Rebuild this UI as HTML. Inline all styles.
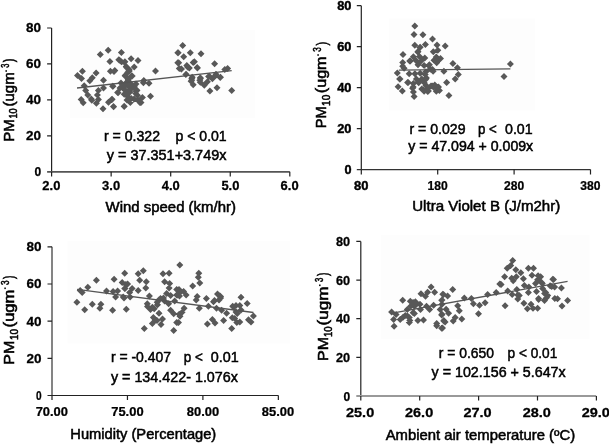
<!DOCTYPE html>
<html><head><meta charset="utf-8"><style>html,body{margin:0;padding:0;background:#fff;}svg{display:block;will-change:transform;}</style></head>
<body><svg width="609" height="444" viewBox="0 0 609 444">
<rect width="609" height="444" fill="#fff"/>
<rect x="70" y="30" width="184.7" height="88" fill="#fdfdfd"/><rect x="389" y="18.5" width="145.8" height="92" fill="#fdfdfd"/><rect x="67.6" y="240.8" width="222.2" height="102.7" fill="#fdfdfd"/><rect x="380.8" y="234.9" width="208.8" height="104.1" fill="#fdfdfd"/><g fill="none"><path d="M51.6 28V171.8" stroke="#222" stroke-width="1.2"/><path d="M47.1 171.8H289.8" stroke="#555" stroke-width="1.8"/><path d="M47.1 28.0H51.6M47.1 63.95H51.6M47.1 99.9H51.6M47.1 135.85000000000002H51.6M51.6 171.8v4.8M111.15 171.8v4.8M170.7 171.8v4.8M230.24999999999997 171.8v4.8M289.8 171.8v4.8" stroke="#222" stroke-width="1.2"/></g><g fill="none"><path d="M361.3 5.7V169.6" stroke="#222" stroke-width="1.2"/><path d="M356.8 169.6H590.5" stroke="#333" stroke-width="1.4"/><path d="M356.8 5.7H361.3M356.8 46.650000000000006H361.3M356.8 87.60000000000001H361.3M356.8 128.55H361.3M361.3 169.6v4.9M437.70000000000005 169.6v4.9M514.1 169.6v4.9M590.5 169.6v4.9" stroke="#222" stroke-width="1.2"/></g><g fill="none"><path d="M52.0 246.8V395.5" stroke="#777" stroke-width="1.8"/><path d="M47.5 395.5H278.4" stroke="#222" stroke-width="1.2"/><path d="M47.5 246.8H52.0M47.5 283.98H52.0M47.5 321.16H52.0M47.5 358.34000000000003H52.0M52.0 395.5v4.4M127.45 395.5v4.4M202.9 395.5v4.4M278.35 395.5v4.4" stroke="#222" stroke-width="1.2"/></g><g fill="none"><path d="M360.8 241.4V396.0" stroke="#222" stroke-width="1.2"/><path d="M356.3 396.0H596.2" stroke="#999" stroke-width="2.0"/><path d="M356.3 241.4H360.8M356.3 280.05H360.8M356.3 318.7H360.8M356.3 357.35H360.8M360.8 396.0v4.6M419.7 396.0v4.6M478.6 396.0v4.6M537.5 396.0v4.6M596.4 396.0v4.6" stroke="#222" stroke-width="1.2"/></g><path d="M100.3 51.1l3.5 3.5l-3.5 3.5l-3.5 -3.5zM108.2 46.8l3.5 3.5l-3.5 3.5l-3.5 -3.5zM121.4 49.1l3.5 3.5l-3.5 3.5l-3.5 -3.5zM109.9 58.0l3.5 3.5l-3.5 3.5l-3.5 -3.5zM119.6 56.7l3.5 3.5l-3.5 3.5l-3.5 -3.5zM124.5 58.7l3.5 3.5l-3.5 3.5l-3.5 -3.5zM110.4 67.8l3.5 3.5l-3.5 3.5l-3.5 -3.5zM114.8 67.0l3.5 3.5l-3.5 3.5l-3.5 -3.5zM96.1 69.5l3.5 3.5l-3.5 3.5l-3.5 -3.5zM82.4 67.8l3.5 3.5l-3.5 3.5l-3.5 -3.5zM77.5 72.1l3.5 3.5l-3.5 3.5l-3.5 -3.5zM81.5 75.1l3.5 3.5l-3.5 3.5l-3.5 -3.5zM92.3 74.2l3.5 3.5l-3.5 3.5l-3.5 -3.5zM89.8 77.3l3.5 3.5l-3.5 3.5l-3.5 -3.5zM103.5 76.8l3.5 3.5l-3.5 3.5l-3.5 -3.5zM84.2 82.3l3.5 3.5l-3.5 3.5l-3.5 -3.5zM85.7 86.9l3.5 3.5l-3.5 3.5l-3.5 -3.5zM87.8 91.5l3.5 3.5l-3.5 3.5l-3.5 -3.5zM91.3 95.5l3.5 3.5l-3.5 3.5l-3.5 -3.5zM81.2 96.0l3.5 3.5l-3.5 3.5l-3.5 -3.5zM98.4 86.9l3.5 3.5l-3.5 3.5l-3.5 -3.5zM103.5 84.4l3.5 3.5l-3.5 3.5l-3.5 -3.5zM97.4 91.5l3.5 3.5l-3.5 3.5l-3.5 -3.5zM98.4 96.0l3.5 3.5l-3.5 3.5l-3.5 -3.5zM112.6 82.8l3.5 3.5l-3.5 3.5l-3.5 -3.5zM117.6 88.9l3.5 3.5l-3.5 3.5l-3.5 -3.5zM111.6 96.0l3.5 3.5l-3.5 3.5l-3.5 -3.5zM83.2 99.2l3.5 3.5l-3.5 3.5l-3.5 -3.5zM91.8 96.7l3.5 3.5l-3.5 3.5l-3.5 -3.5zM96.4 99.7l3.5 3.5l-3.5 3.5l-3.5 -3.5zM103.0 105.3l3.5 3.5l-3.5 3.5l-3.5 -3.5zM108.5 98.7l3.5 3.5l-3.5 3.5l-3.5 -3.5zM112.1 95.7l3.5 3.5l-3.5 3.5l-3.5 -3.5zM113.6 103.3l3.5 3.5l-3.5 3.5l-3.5 -3.5zM124.2 102.8l3.5 3.5l-3.5 3.5l-3.5 -3.5zM122.7 84.5l3.5 3.5l-3.5 3.5l-3.5 -3.5zM131.1 55.3l3.5 3.5l-3.5 3.5l-3.5 -3.5zM138.0 57.0l3.5 3.5l-3.5 3.5l-3.5 -3.5zM126.6 63.9l3.5 3.5l-3.5 3.5l-3.5 -3.5zM134.2 63.4l3.5 3.5l-3.5 3.5l-3.5 -3.5zM129.1 65.9l3.5 3.5l-3.5 3.5l-3.5 -3.5zM125.1 72.0l3.5 3.5l-3.5 3.5l-3.5 -3.5zM132.2 72.5l3.5 3.5l-3.5 3.5l-3.5 -3.5zM128.1 75.0l3.5 3.5l-3.5 3.5l-3.5 -3.5zM155.5 67.5l3.5 3.5l-3.5 3.5l-3.5 -3.5zM177.8 49.2l3.5 3.5l-3.5 3.5l-3.5 -3.5zM177.8 59.3l3.5 3.5l-3.5 3.5l-3.5 -3.5zM179.3 64.9l3.5 3.5l-3.5 3.5l-3.5 -3.5zM143.8 77.1l3.5 3.5l-3.5 3.5l-3.5 -3.5zM129.3 67.5l3.5 3.5l-3.5 3.5l-3.5 -3.5zM125.2 72.6l3.5 3.5l-3.5 3.5l-3.5 -3.5zM131.8 72.6l3.5 3.5l-3.5 3.5l-3.5 -3.5zM128.2 76.6l3.5 3.5l-3.5 3.5l-3.5 -3.5zM123.2 81.7l3.5 3.5l-3.5 3.5l-3.5 -3.5zM128.7 81.7l3.5 3.5l-3.5 3.5l-3.5 -3.5zM134.3 82.7l3.5 3.5l-3.5 3.5l-3.5 -3.5zM130.3 86.3l3.5 3.5l-3.5 3.5l-3.5 -3.5zM136.3 87.8l3.5 3.5l-3.5 3.5l-3.5 -3.5zM126.2 90.8l3.5 3.5l-3.5 3.5l-3.5 -3.5zM131.3 94.9l3.5 3.5l-3.5 3.5l-3.5 -3.5zM130.3 98.9l3.5 3.5l-3.5 3.5l-3.5 -3.5zM137.4 91.8l3.5 3.5l-3.5 3.5l-3.5 -3.5zM142.4 93.9l3.5 3.5l-3.5 3.5l-3.5 -3.5zM139.9 98.9l3.5 3.5l-3.5 3.5l-3.5 -3.5zM118.1 89.3l3.5 3.5l-3.5 3.5l-3.5 -3.5zM113.0 82.7l3.5 3.5l-3.5 3.5l-3.5 -3.5zM112.0 95.9l3.5 3.5l-3.5 3.5l-3.5 -3.5zM113.5 103.0l3.5 3.5l-3.5 3.5l-3.5 -3.5zM124.2 103.0l3.5 3.5l-3.5 3.5l-3.5 -3.5zM143.4 79.2l3.5 3.5l-3.5 3.5l-3.5 -3.5zM149.0 79.7l3.5 3.5l-3.5 3.5l-3.5 -3.5zM150.5 92.8l3.5 3.5l-3.5 3.5l-3.5 -3.5zM114.0 68.0l3.5 3.5l-3.5 3.5l-3.5 -3.5zM141.0 99.0l3.5 3.5l-3.5 3.5l-3.5 -3.5zM182.7 42.1l3.5 3.5l-3.5 3.5l-3.5 -3.5zM178.2 49.2l3.5 3.5l-3.5 3.5l-3.5 -3.5zM190.3 49.2l3.5 3.5l-3.5 3.5l-3.5 -3.5zM201.0 50.2l3.5 3.5l-3.5 3.5l-3.5 -3.5zM183.7 53.2l3.5 3.5l-3.5 3.5l-3.5 -3.5zM178.7 59.3l3.5 3.5l-3.5 3.5l-3.5 -3.5zM186.8 61.9l3.5 3.5l-3.5 3.5l-3.5 -3.5zM189.3 64.4l3.5 3.5l-3.5 3.5l-3.5 -3.5zM194.4 58.3l3.5 3.5l-3.5 3.5l-3.5 -3.5zM197.4 64.4l3.5 3.5l-3.5 3.5l-3.5 -3.5zM181.2 65.4l3.5 3.5l-3.5 3.5l-3.5 -3.5zM214.6 60.3l3.5 3.5l-3.5 3.5l-3.5 -3.5zM185.8 71.0l3.5 3.5l-3.5 3.5l-3.5 -3.5zM191.8 75.0l3.5 3.5l-3.5 3.5l-3.5 -3.5zM200.5 75.0l3.5 3.5l-3.5 3.5l-3.5 -3.5zM208.6 73.0l3.5 3.5l-3.5 3.5l-3.5 -3.5zM215.7 72.0l3.5 3.5l-3.5 3.5l-3.5 -3.5zM220.2 74.0l3.5 3.5l-3.5 3.5l-3.5 -3.5zM224.8 65.9l3.5 3.5l-3.5 3.5l-3.5 -3.5zM227.6 65.1l3.5 3.5l-3.5 3.5l-3.5 -3.5zM186.1 70.7l3.5 3.5l-3.5 3.5l-3.5 -3.5zM192.2 73.7l3.5 3.5l-3.5 3.5l-3.5 -3.5zM191.1 77.8l3.5 3.5l-3.5 3.5l-3.5 -3.5zM193.2 81.3l3.5 3.5l-3.5 3.5l-3.5 -3.5zM200.3 74.2l3.5 3.5l-3.5 3.5l-3.5 -3.5zM200.3 78.8l3.5 3.5l-3.5 3.5l-3.5 -3.5zM204.3 81.8l3.5 3.5l-3.5 3.5l-3.5 -3.5zM207.4 78.3l3.5 3.5l-3.5 3.5l-3.5 -3.5zM209.4 72.7l3.5 3.5l-3.5 3.5l-3.5 -3.5zM212.4 75.2l3.5 3.5l-3.5 3.5l-3.5 -3.5zM216.0 70.7l3.5 3.5l-3.5 3.5l-3.5 -3.5zM220.5 73.7l3.5 3.5l-3.5 3.5l-3.5 -3.5zM217.0 84.3l3.5 3.5l-3.5 3.5l-3.5 -3.5zM209.9 87.4l3.5 3.5l-3.5 3.5l-3.5 -3.5zM231.7 86.9l3.5 3.5l-3.5 3.5l-3.5 -3.5zM197.2 64.1l3.5 3.5l-3.5 3.5l-3.5 -3.5zM187.6 63.6l3.5 3.5l-3.5 3.5l-3.5 -3.5zM181.5 65.6l3.5 3.5l-3.5 3.5l-3.5 -3.5zM193.2 59.0l3.5 3.5l-3.5 3.5l-3.5 -3.5zM191.7 76.7l3.5 3.5l-3.5 3.5l-3.5 -3.5zM199.8 76.7l3.5 3.5l-3.5 3.5l-3.5 -3.5zM126.2 63.0l3.5 3.5l-3.5 3.5l-3.5 -3.5zM127.6 69.1l3.5 3.5l-3.5 3.5l-3.5 -3.5zM128.9 66.4l3.5 3.5l-3.5 3.5l-3.5 -3.5zM121.5 58.3l3.5 3.5l-3.5 3.5l-3.5 -3.5zM124.9 58.3l3.5 3.5l-3.5 3.5l-3.5 -3.5zM131.6 72.4l3.5 3.5l-3.5 3.5l-3.5 -3.5zM135.7 90.0l3.5 3.5l-3.5 3.5l-3.5 -3.5zM128.2 93.4l3.5 3.5l-3.5 3.5l-3.5 -3.5zM124.2 90.7l3.5 3.5l-3.5 3.5l-3.5 -3.5zM133.6 84.0l3.5 3.5l-3.5 3.5l-3.5 -3.5zM137.0 86.7l3.5 3.5l-3.5 3.5l-3.5 -3.5zM128.2 82.6l3.5 3.5l-3.5 3.5l-3.5 -3.5zM123.5 83.3l3.5 3.5l-3.5 3.5l-3.5 -3.5zM118.8 56.2l3.5 3.5l-3.5 3.5l-3.5 -3.5zM121.0 79.5l3.5 3.5l-3.5 3.5l-3.5 -3.5zM126.0 79.5l3.5 3.5l-3.5 3.5l-3.5 -3.5zM131.0 80.5l3.5 3.5l-3.5 3.5l-3.5 -3.5zM136.0 80.5l3.5 3.5l-3.5 3.5l-3.5 -3.5zM120.0 84.5l3.5 3.5l-3.5 3.5l-3.5 -3.5zM125.0 86.5l3.5 3.5l-3.5 3.5l-3.5 -3.5zM130.0 88.5l3.5 3.5l-3.5 3.5l-3.5 -3.5zM127.0 96.5l3.5 3.5l-3.5 3.5l-3.5 -3.5zM134.0 95.5l3.5 3.5l-3.5 3.5l-3.5 -3.5zM138.0 96.5l3.5 3.5l-3.5 3.5l-3.5 -3.5z" fill="#585858"/><path d="M414.8 22.4l3.5 3.5l-3.5 3.5l-3.5 -3.5zM414.0 31.0l3.5 3.5l-3.5 3.5l-3.5 -3.5zM422.9 31.3l3.5 3.5l-3.5 3.5l-3.5 -3.5zM432.5 35.6l3.5 3.5l-3.5 3.5l-3.5 -3.5zM414.8 41.7l3.5 3.5l-3.5 3.5l-3.5 -3.5zM425.4 40.9l3.5 3.5l-3.5 3.5l-3.5 -3.5zM437.0 41.4l3.5 3.5l-3.5 3.5l-3.5 -3.5zM445.2 42.4l3.5 3.5l-3.5 3.5l-3.5 -3.5zM420.2 43.7l3.5 3.5l-3.5 3.5l-3.5 -3.5zM418.0 47.9l3.5 3.5l-3.5 3.5l-3.5 -3.5zM433.3 48.3l3.5 3.5l-3.5 3.5l-3.5 -3.5zM437.8 46.7l3.5 3.5l-3.5 3.5l-3.5 -3.5zM403.0 50.9l3.5 3.5l-3.5 3.5l-3.5 -3.5zM413.4 53.2l3.5 3.5l-3.5 3.5l-3.5 -3.5zM419.5 52.9l3.5 3.5l-3.5 3.5l-3.5 -3.5zM424.8 54.4l3.5 3.5l-3.5 3.5l-3.5 -3.5zM410.3 57.5l3.5 3.5l-3.5 3.5l-3.5 -3.5zM415.7 56.7l3.5 3.5l-3.5 3.5l-3.5 -3.5zM421.0 57.5l3.5 3.5l-3.5 3.5l-3.5 -3.5zM402.7 59.0l3.5 3.5l-3.5 3.5l-3.5 -3.5zM402.7 62.8l3.5 3.5l-3.5 3.5l-3.5 -3.5zM429.4 61.3l3.5 3.5l-3.5 3.5l-3.5 -3.5zM434.0 56.7l3.5 3.5l-3.5 3.5l-3.5 -3.5zM436.3 53.6l3.5 3.5l-3.5 3.5l-3.5 -3.5zM437.8 57.5l3.5 3.5l-3.5 3.5l-3.5 -3.5zM432.5 65.9l3.5 3.5l-3.5 3.5l-3.5 -3.5zM418.0 61.3l3.5 3.5l-3.5 3.5l-3.5 -3.5zM424.1 62.0l3.5 3.5l-3.5 3.5l-3.5 -3.5zM397.3 69.4l3.5 3.5l-3.5 3.5l-3.5 -3.5zM400.0 75.5l3.5 3.5l-3.5 3.5l-3.5 -3.5zM398.1 83.2l3.5 3.5l-3.5 3.5l-3.5 -3.5zM402.3 87.4l3.5 3.5l-3.5 3.5l-3.5 -3.5zM407.6 79.0l3.5 3.5l-3.5 3.5l-3.5 -3.5zM409.2 70.2l3.5 3.5l-3.5 3.5l-3.5 -3.5zM414.9 70.2l3.5 3.5l-3.5 3.5l-3.5 -3.5zM420.2 69.8l3.5 3.5l-3.5 3.5l-3.5 -3.5zM425.2 70.9l3.5 3.5l-3.5 3.5l-3.5 -3.5zM416.4 75.5l3.5 3.5l-3.5 3.5l-3.5 -3.5zM421.8 75.5l3.5 3.5l-3.5 3.5l-3.5 -3.5zM425.6 75.9l3.5 3.5l-3.5 3.5l-3.5 -3.5zM413.4 80.1l3.5 3.5l-3.5 3.5l-3.5 -3.5zM418.7 79.3l3.5 3.5l-3.5 3.5l-3.5 -3.5zM424.1 78.9l3.5 3.5l-3.5 3.5l-3.5 -3.5zM430.2 65.5l3.5 3.5l-3.5 3.5l-3.5 -3.5zM412.6 84.7l3.5 3.5l-3.5 3.5l-3.5 -3.5zM413.4 88.5l3.5 3.5l-3.5 3.5l-3.5 -3.5zM414.1 93.1l3.5 3.5l-3.5 3.5l-3.5 -3.5zM421.8 85.5l3.5 3.5l-3.5 3.5l-3.5 -3.5zM424.1 87.7l3.5 3.5l-3.5 3.5l-3.5 -3.5zM427.1 85.5l3.5 3.5l-3.5 3.5l-3.5 -3.5zM431.0 82.4l3.5 3.5l-3.5 3.5l-3.5 -3.5zM434.8 81.6l3.5 3.5l-3.5 3.5l-3.5 -3.5zM437.8 83.9l3.5 3.5l-3.5 3.5l-3.5 -3.5zM436.3 87.7l3.5 3.5l-3.5 3.5l-3.5 -3.5zM436.7 59.2l3.5 3.5l-3.5 3.5l-3.5 -3.5zM428.6 61.9l3.5 3.5l-3.5 3.5l-3.5 -3.5zM433.1 67.8l3.5 3.5l-3.5 3.5l-3.5 -3.5zM443.9 67.8l3.5 3.5l-3.5 3.5l-3.5 -3.5zM452.9 60.1l3.5 3.5l-3.5 3.5l-3.5 -3.5zM457.4 64.2l3.5 3.5l-3.5 3.5l-3.5 -3.5zM458.3 70.9l3.5 3.5l-3.5 3.5l-3.5 -3.5zM455.2 75.4l3.5 3.5l-3.5 3.5l-3.5 -3.5zM446.6 79.0l3.5 3.5l-3.5 3.5l-3.5 -3.5zM448.9 92.1l3.5 3.5l-3.5 3.5l-3.5 -3.5zM426.4 74.5l3.5 3.5l-3.5 3.5l-3.5 -3.5zM432.2 82.6l3.5 3.5l-3.5 3.5l-3.5 -3.5zM438.5 83.5l3.5 3.5l-3.5 3.5l-3.5 -3.5zM439.4 87.1l3.5 3.5l-3.5 3.5l-3.5 -3.5zM427.7 88.0l3.5 3.5l-3.5 3.5l-3.5 -3.5zM425.9 68.2l3.5 3.5l-3.5 3.5l-3.5 -3.5zM425.9 81.7l3.5 3.5l-3.5 3.5l-3.5 -3.5zM408.2 79.0l3.5 3.5l-3.5 3.5l-3.5 -3.5zM413.2 83.6l3.5 3.5l-3.5 3.5l-3.5 -3.5zM418.3 78.5l3.5 3.5l-3.5 3.5l-3.5 -3.5zM423.4 86.6l3.5 3.5l-3.5 3.5l-3.5 -3.5zM428.4 87.6l3.5 3.5l-3.5 3.5l-3.5 -3.5zM433.5 83.6l3.5 3.5l-3.5 3.5l-3.5 -3.5zM446.7 79.0l3.5 3.5l-3.5 3.5l-3.5 -3.5zM440.5 54.9l3.5 3.5l-3.5 3.5l-3.5 -3.5zM419.8 43.9l3.5 3.5l-3.5 3.5l-3.5 -3.5zM417.8 48.5l3.5 3.5l-3.5 3.5l-3.5 -3.5zM409.7 57.6l3.5 3.5l-3.5 3.5l-3.5 -3.5zM404.1 64.7l3.5 3.5l-3.5 3.5l-3.5 -3.5zM399.6 75.4l3.5 3.5l-3.5 3.5l-3.5 -3.5zM510.4 60.5l3.5 3.5l-3.5 3.5l-3.5 -3.5zM504.0 72.9l3.5 3.5l-3.5 3.5l-3.5 -3.5z" fill="#585858"/><path d="M96.4 276.8l3.5 3.5l-3.5 3.5l-3.5 -3.5zM87.8 283.7l3.5 3.5l-3.5 3.5l-3.5 -3.5zM80.2 287.0l3.5 3.5l-3.5 3.5l-3.5 -3.5zM82.2 289.0l3.5 3.5l-3.5 3.5l-3.5 -3.5zM114.1 275.8l3.5 3.5l-3.5 3.5l-3.5 -3.5zM124.7 269.7l3.5 3.5l-3.5 3.5l-3.5 -3.5zM122.2 278.9l3.5 3.5l-3.5 3.5l-3.5 -3.5zM125.8 280.9l3.5 3.5l-3.5 3.5l-3.5 -3.5zM106.5 287.5l3.5 3.5l-3.5 3.5l-3.5 -3.5zM113.1 288.0l3.5 3.5l-3.5 3.5l-3.5 -3.5zM117.6 287.5l3.5 3.5l-3.5 3.5l-3.5 -3.5zM124.7 284.9l3.5 3.5l-3.5 3.5l-3.5 -3.5zM115.6 293.5l3.5 3.5l-3.5 3.5l-3.5 -3.5zM123.2 293.5l3.5 3.5l-3.5 3.5l-3.5 -3.5zM76.9 298.7l3.5 3.5l-3.5 3.5l-3.5 -3.5zM84.7 306.3l3.5 3.5l-3.5 3.5l-3.5 -3.5zM92.3 300.7l3.5 3.5l-3.5 3.5l-3.5 -3.5zM100.9 300.7l3.5 3.5l-3.5 3.5l-3.5 -3.5zM99.9 304.7l3.5 3.5l-3.5 3.5l-3.5 -3.5zM112.6 306.8l3.5 3.5l-3.5 3.5l-3.5 -3.5zM126.3 305.8l3.5 3.5l-3.5 3.5l-3.5 -3.5zM138.2 270.2l3.5 3.5l-3.5 3.5l-3.5 -3.5zM143.3 267.2l3.5 3.5l-3.5 3.5l-3.5 -3.5zM139.7 276.8l3.5 3.5l-3.5 3.5l-3.5 -3.5zM146.3 278.3l3.5 3.5l-3.5 3.5l-3.5 -3.5zM145.8 284.4l3.5 3.5l-3.5 3.5l-3.5 -3.5zM127.6 280.4l3.5 3.5l-3.5 3.5l-3.5 -3.5zM125.0 284.9l3.5 3.5l-3.5 3.5l-3.5 -3.5zM132.1 284.9l3.5 3.5l-3.5 3.5l-3.5 -3.5zM138.2 287.0l3.5 3.5l-3.5 3.5l-3.5 -3.5zM129.6 289.0l3.5 3.5l-3.5 3.5l-3.5 -3.5zM149.4 292.5l3.5 3.5l-3.5 3.5l-3.5 -3.5zM163.0 270.2l3.5 3.5l-3.5 3.5l-3.5 -3.5zM169.1 269.7l3.5 3.5l-3.5 3.5l-3.5 -3.5zM179.8 261.6l3.5 3.5l-3.5 3.5l-3.5 -3.5zM164.6 278.3l3.5 3.5l-3.5 3.5l-3.5 -3.5zM169.6 279.9l3.5 3.5l-3.5 3.5l-3.5 -3.5zM169.1 284.5l3.5 3.5l-3.5 3.5l-3.5 -3.5zM176.7 285.9l3.5 3.5l-3.5 3.5l-3.5 -3.5zM166.6 290.0l3.5 3.5l-3.5 3.5l-3.5 -3.5zM170.6 292.0l3.5 3.5l-3.5 3.5l-3.5 -3.5zM177.7 291.5l3.5 3.5l-3.5 3.5l-3.5 -3.5zM180.8 288.0l3.5 3.5l-3.5 3.5l-3.5 -3.5zM160.5 295.1l3.5 3.5l-3.5 3.5l-3.5 -3.5zM163.5 294.6l3.5 3.5l-3.5 3.5l-3.5 -3.5zM124.0 294.6l3.5 3.5l-3.5 3.5l-3.5 -3.5zM130.1 293.6l3.5 3.5l-3.5 3.5l-3.5 -3.5zM147.3 300.2l3.5 3.5l-3.5 3.5l-3.5 -3.5zM152.4 303.7l3.5 3.5l-3.5 3.5l-3.5 -3.5zM157.5 301.2l3.5 3.5l-3.5 3.5l-3.5 -3.5zM159.0 309.8l3.5 3.5l-3.5 3.5l-3.5 -3.5zM153.4 313.9l3.5 3.5l-3.5 3.5l-3.5 -3.5zM152.4 319.9l3.5 3.5l-3.5 3.5l-3.5 -3.5zM157.0 316.9l3.5 3.5l-3.5 3.5l-3.5 -3.5zM162.5 315.4l3.5 3.5l-3.5 3.5l-3.5 -3.5zM161.0 320.9l3.5 3.5l-3.5 3.5l-3.5 -3.5zM144.3 325.0l3.5 3.5l-3.5 3.5l-3.5 -3.5zM164.6 297.6l3.5 3.5l-3.5 3.5l-3.5 -3.5zM168.6 300.2l3.5 3.5l-3.5 3.5l-3.5 -3.5zM176.7 291.5l3.5 3.5l-3.5 3.5l-3.5 -3.5zM174.7 297.6l3.5 3.5l-3.5 3.5l-3.5 -3.5zM170.6 306.8l3.5 3.5l-3.5 3.5l-3.5 -3.5zM173.7 310.3l3.5 3.5l-3.5 3.5l-3.5 -3.5zM179.2 310.8l3.5 3.5l-3.5 3.5l-3.5 -3.5zM176.7 318.9l3.5 3.5l-3.5 3.5l-3.5 -3.5zM173.7 327.0l3.5 3.5l-3.5 3.5l-3.5 -3.5zM198.8 269.7l3.5 3.5l-3.5 3.5l-3.5 -3.5zM198.3 273.8l3.5 3.5l-3.5 3.5l-3.5 -3.5zM199.8 279.4l3.5 3.5l-3.5 3.5l-3.5 -3.5zM192.7 282.4l3.5 3.5l-3.5 3.5l-3.5 -3.5zM179.0 285.9l3.5 3.5l-3.5 3.5l-3.5 -3.5zM183.6 288.0l3.5 3.5l-3.5 3.5l-3.5 -3.5zM186.1 291.5l3.5 3.5l-3.5 3.5l-3.5 -3.5zM179.0 292.0l3.5 3.5l-3.5 3.5l-3.5 -3.5zM197.2 293.0l3.5 3.5l-3.5 3.5l-3.5 -3.5zM206.4 295.1l3.5 3.5l-3.5 3.5l-3.5 -3.5zM217.5 290.5l3.5 3.5l-3.5 3.5l-3.5 -3.5zM220.6 293.0l3.5 3.5l-3.5 3.5l-3.5 -3.5zM179.5 292.6l3.5 3.5l-3.5 3.5l-3.5 -3.5zM196.2 296.6l3.5 3.5l-3.5 3.5l-3.5 -3.5zM220.6 294.6l3.5 3.5l-3.5 3.5l-3.5 -3.5zM213.5 298.2l3.5 3.5l-3.5 3.5l-3.5 -3.5zM208.4 302.7l3.5 3.5l-3.5 3.5l-3.5 -3.5zM199.3 304.7l3.5 3.5l-3.5 3.5l-3.5 -3.5zM216.5 304.7l3.5 3.5l-3.5 3.5l-3.5 -3.5zM221.6 306.8l3.5 3.5l-3.5 3.5l-3.5 -3.5zM184.1 304.7l3.5 3.5l-3.5 3.5l-3.5 -3.5zM182.1 308.8l3.5 3.5l-3.5 3.5l-3.5 -3.5zM180.0 312.8l3.5 3.5l-3.5 3.5l-3.5 -3.5zM178.5 318.9l3.5 3.5l-3.5 3.5l-3.5 -3.5zM207.4 320.4l3.5 3.5l-3.5 3.5l-3.5 -3.5zM212.4 315.9l3.5 3.5l-3.5 3.5l-3.5 -3.5zM215.0 319.4l3.5 3.5l-3.5 3.5l-3.5 -3.5zM223.6 316.9l3.5 3.5l-3.5 3.5l-3.5 -3.5zM226.6 309.8l3.5 3.5l-3.5 3.5l-3.5 -3.5zM232.7 302.7l3.5 3.5l-3.5 3.5l-3.5 -3.5zM234.7 314.9l3.5 3.5l-3.5 3.5l-3.5 -3.5zM236.8 318.9l3.5 3.5l-3.5 3.5l-3.5 -3.5zM231.7 325.0l3.5 3.5l-3.5 3.5l-3.5 -3.5zM241.0 293.8l3.5 3.5l-3.5 3.5l-3.5 -3.5zM247.2 300.0l3.5 3.5l-3.5 3.5l-3.5 -3.5zM239.8 301.9l3.5 3.5l-3.5 3.5l-3.5 -3.5zM233.6 303.8l3.5 3.5l-3.5 3.5l-3.5 -3.5zM237.3 310.0l3.5 3.5l-3.5 3.5l-3.5 -3.5zM232.3 314.3l3.5 3.5l-3.5 3.5l-3.5 -3.5zM239.8 318.6l3.5 3.5l-3.5 3.5l-3.5 -3.5zM248.5 316.2l3.5 3.5l-3.5 3.5l-3.5 -3.5zM253.4 312.5l3.5 3.5l-3.5 3.5l-3.5 -3.5zM251.0 318.6l3.5 3.5l-3.5 3.5l-3.5 -3.5zM220.0 292.6l3.5 3.5l-3.5 3.5l-3.5 -3.5zM154.2 305.3l3.5 3.5l-3.5 3.5l-3.5 -3.5zM157.2 298.7l3.5 3.5l-3.5 3.5l-3.5 -3.5zM158.8 296.6l3.5 3.5l-3.5 3.5l-3.5 -3.5zM155.2 316.4l3.5 3.5l-3.5 3.5l-3.5 -3.5zM147.5 303.0l3.5 3.5l-3.5 3.5l-3.5 -3.5zM150.5 306.0l3.5 3.5l-3.5 3.5l-3.5 -3.5zM214.5 297.0l3.5 3.5l-3.5 3.5l-3.5 -3.5zM219.0 296.5l3.5 3.5l-3.5 3.5l-3.5 -3.5zM236.0 302.0l3.5 3.5l-3.5 3.5l-3.5 -3.5zM241.0 306.5l3.5 3.5l-3.5 3.5l-3.5 -3.5zM236.0 308.5l3.5 3.5l-3.5 3.5l-3.5 -3.5z" fill="#585858"/><path d="M431.1 283.6l3.5 3.5l-3.5 3.5l-3.5 -3.5zM434.6 288.7l3.5 3.5l-3.5 3.5l-3.5 -3.5zM427.6 288.7l3.5 3.5l-3.5 3.5l-3.5 -3.5zM421.0 290.2l3.5 3.5l-3.5 3.5l-3.5 -3.5zM425.5 292.7l3.5 3.5l-3.5 3.5l-3.5 -3.5zM442.8 290.7l3.5 3.5l-3.5 3.5l-3.5 -3.5zM441.7 296.8l3.5 3.5l-3.5 3.5l-3.5 -3.5zM402.7 296.8l3.5 3.5l-3.5 3.5l-3.5 -3.5zM410.3 297.8l3.5 3.5l-3.5 3.5l-3.5 -3.5zM415.4 298.3l3.5 3.5l-3.5 3.5l-3.5 -3.5zM420.0 300.8l3.5 3.5l-3.5 3.5l-3.5 -3.5zM414.4 302.8l3.5 3.5l-3.5 3.5l-3.5 -3.5zM407.3 305.9l3.5 3.5l-3.5 3.5l-3.5 -3.5zM420.5 305.9l3.5 3.5l-3.5 3.5l-3.5 -3.5zM426.5 302.8l3.5 3.5l-3.5 3.5l-3.5 -3.5zM429.6 305.9l3.5 3.5l-3.5 3.5l-3.5 -3.5zM433.6 301.8l3.5 3.5l-3.5 3.5l-3.5 -3.5zM440.2 305.9l3.5 3.5l-3.5 3.5l-3.5 -3.5zM441.7 310.9l3.5 3.5l-3.5 3.5l-3.5 -3.5zM391.6 308.4l3.5 3.5l-3.5 3.5l-3.5 -3.5zM396.1 310.9l3.5 3.5l-3.5 3.5l-3.5 -3.5zM393.6 316.0l3.5 3.5l-3.5 3.5l-3.5 -3.5zM400.2 316.0l3.5 3.5l-3.5 3.5l-3.5 -3.5zM405.3 312.0l3.5 3.5l-3.5 3.5l-3.5 -3.5zM409.3 314.0l3.5 3.5l-3.5 3.5l-3.5 -3.5zM414.4 309.9l3.5 3.5l-3.5 3.5l-3.5 -3.5zM409.3 319.1l3.5 3.5l-3.5 3.5l-3.5 -3.5zM417.9 317.0l3.5 3.5l-3.5 3.5l-3.5 -3.5zM423.5 316.5l3.5 3.5l-3.5 3.5l-3.5 -3.5zM436.7 320.1l3.5 3.5l-3.5 3.5l-3.5 -3.5zM443.8 317.0l3.5 3.5l-3.5 3.5l-3.5 -3.5zM394.1 322.7l3.5 3.5l-3.5 3.5l-3.5 -3.5zM409.3 318.7l3.5 3.5l-3.5 3.5l-3.5 -3.5zM436.7 322.2l3.5 3.5l-3.5 3.5l-3.5 -3.5zM441.7 324.7l3.5 3.5l-3.5 3.5l-3.5 -3.5zM441.7 311.6l3.5 3.5l-3.5 3.5l-3.5 -3.5zM443.8 317.6l3.5 3.5l-3.5 3.5l-3.5 -3.5zM452.7 285.9l3.5 3.5l-3.5 3.5l-3.5 -3.5zM443.5 291.0l3.5 3.5l-3.5 3.5l-3.5 -3.5zM447.6 292.5l3.5 3.5l-3.5 3.5l-3.5 -3.5zM464.3 294.6l3.5 3.5l-3.5 3.5l-3.5 -3.5zM471.4 295.1l3.5 3.5l-3.5 3.5l-3.5 -3.5zM487.6 291.0l3.5 3.5l-3.5 3.5l-3.5 -3.5zM496.2 289.0l3.5 3.5l-3.5 3.5l-3.5 -3.5zM499.8 280.4l3.5 3.5l-3.5 3.5l-3.5 -3.5zM442.0 296.6l3.5 3.5l-3.5 3.5l-3.5 -3.5zM442.0 300.7l3.5 3.5l-3.5 3.5l-3.5 -3.5zM446.1 305.8l3.5 3.5l-3.5 3.5l-3.5 -3.5zM448.6 309.8l3.5 3.5l-3.5 3.5l-3.5 -3.5zM442.0 310.8l3.5 3.5l-3.5 3.5l-3.5 -3.5zM457.7 302.2l3.5 3.5l-3.5 3.5l-3.5 -3.5zM459.3 307.3l3.5 3.5l-3.5 3.5l-3.5 -3.5zM473.4 300.2l3.5 3.5l-3.5 3.5l-3.5 -3.5zM479.5 301.7l3.5 3.5l-3.5 3.5l-3.5 -3.5zM485.1 299.2l3.5 3.5l-3.5 3.5l-3.5 -3.5zM478.5 310.3l3.5 3.5l-3.5 3.5l-3.5 -3.5zM455.2 313.9l3.5 3.5l-3.5 3.5l-3.5 -3.5zM453.2 317.4l3.5 3.5l-3.5 3.5l-3.5 -3.5zM461.8 315.4l3.5 3.5l-3.5 3.5l-3.5 -3.5zM445.1 318.4l3.5 3.5l-3.5 3.5l-3.5 -3.5zM442.5 324.5l3.5 3.5l-3.5 3.5l-3.5 -3.5zM512.7 257.1l3.5 3.5l-3.5 3.5l-3.5 -3.5zM510.7 262.1l3.5 3.5l-3.5 3.5l-3.5 -3.5zM507.2 264.7l3.5 3.5l-3.5 3.5l-3.5 -3.5zM515.8 266.2l3.5 3.5l-3.5 3.5l-3.5 -3.5zM520.8 269.2l3.5 3.5l-3.5 3.5l-3.5 -3.5zM504.6 273.3l3.5 3.5l-3.5 3.5l-3.5 -3.5zM511.7 274.8l3.5 3.5l-3.5 3.5l-3.5 -3.5zM516.3 273.3l3.5 3.5l-3.5 3.5l-3.5 -3.5zM513.2 277.3l3.5 3.5l-3.5 3.5l-3.5 -3.5zM523.4 275.3l3.5 3.5l-3.5 3.5l-3.5 -3.5zM528.4 264.7l3.5 3.5l-3.5 3.5l-3.5 -3.5zM533.5 264.7l3.5 3.5l-3.5 3.5l-3.5 -3.5zM532.0 271.8l3.5 3.5l-3.5 3.5l-3.5 -3.5zM538.1 272.3l3.5 3.5l-3.5 3.5l-3.5 -3.5zM537.6 276.3l3.5 3.5l-3.5 3.5l-3.5 -3.5zM501.1 280.9l3.5 3.5l-3.5 3.5l-3.5 -3.5zM524.4 281.9l3.5 3.5l-3.5 3.5l-3.5 -3.5zM528.9 283.4l3.5 3.5l-3.5 3.5l-3.5 -3.5zM535.5 279.9l3.5 3.5l-3.5 3.5l-3.5 -3.5zM541.6 278.9l3.5 3.5l-3.5 3.5l-3.5 -3.5zM552.8 275.8l3.5 3.5l-3.5 3.5l-3.5 -3.5zM551.7 282.9l3.5 3.5l-3.5 3.5l-3.5 -3.5zM507.7 287.5l3.5 3.5l-3.5 3.5l-3.5 -3.5zM516.8 285.9l3.5 3.5l-3.5 3.5l-3.5 -3.5zM512.2 291.0l3.5 3.5l-3.5 3.5l-3.5 -3.5zM519.3 292.0l3.5 3.5l-3.5 3.5l-3.5 -3.5zM528.4 289.0l3.5 3.5l-3.5 3.5l-3.5 -3.5zM536.5 288.0l3.5 3.5l-3.5 3.5l-3.5 -3.5zM544.6 290.0l3.5 3.5l-3.5 3.5l-3.5 -3.5zM542.6 284.9l3.5 3.5l-3.5 3.5l-3.5 -3.5zM538.6 295.1l3.5 3.5l-3.5 3.5l-3.5 -3.5zM546.7 294.1l3.5 3.5l-3.5 3.5l-3.5 -3.5zM505.1 302.2l3.5 3.5l-3.5 3.5l-3.5 -3.5zM517.8 291.6l3.5 3.5l-3.5 3.5l-3.5 -3.5zM517.8 295.6l3.5 3.5l-3.5 3.5l-3.5 -3.5zM523.9 299.7l3.5 3.5l-3.5 3.5l-3.5 -3.5zM527.4 305.2l3.5 3.5l-3.5 3.5l-3.5 -3.5zM531.0 300.7l3.5 3.5l-3.5 3.5l-3.5 -3.5zM533.0 304.7l3.5 3.5l-3.5 3.5l-3.5 -3.5zM537.6 304.7l3.5 3.5l-3.5 3.5l-3.5 -3.5zM538.6 296.1l3.5 3.5l-3.5 3.5l-3.5 -3.5zM544.6 296.6l3.5 3.5l-3.5 3.5l-3.5 -3.5zM547.7 292.1l3.5 3.5l-3.5 3.5l-3.5 -3.5zM545.7 289.0l3.5 3.5l-3.5 3.5l-3.5 -3.5zM554.8 295.1l3.5 3.5l-3.5 3.5l-3.5 -3.5zM553.5 276.1l3.5 3.5l-3.5 3.5l-3.5 -3.5zM540.6 273.3l3.5 3.5l-3.5 3.5l-3.5 -3.5zM542.3 280.0l3.5 3.5l-3.5 3.5l-3.5 -3.5zM550.1 282.3l3.5 3.5l-3.5 3.5l-3.5 -3.5zM554.6 283.4l3.5 3.5l-3.5 3.5l-3.5 -3.5zM561.4 284.5l3.5 3.5l-3.5 3.5l-3.5 -3.5zM557.5 295.2l3.5 3.5l-3.5 3.5l-3.5 -3.5zM567.6 296.9l3.5 3.5l-3.5 3.5l-3.5 -3.5zM562.0 302.5l3.5 3.5l-3.5 3.5l-3.5 -3.5zM546.8 291.3l3.5 3.5l-3.5 3.5l-3.5 -3.5zM544.5 296.9l3.5 3.5l-3.5 3.5l-3.5 -3.5zM413.1 299.0l3.5 3.5l-3.5 3.5l-3.5 -3.5zM410.9 302.4l3.5 3.5l-3.5 3.5l-3.5 -3.5zM416.5 300.7l3.5 3.5l-3.5 3.5l-3.5 -3.5zM407.5 312.5l3.5 3.5l-3.5 3.5l-3.5 -3.5zM409.8 317.0l3.5 3.5l-3.5 3.5l-3.5 -3.5zM403.0 313.7l3.5 3.5l-3.5 3.5l-3.5 -3.5zM413.1 309.2l3.5 3.5l-3.5 3.5l-3.5 -3.5z" fill="#585858"/><line x1="77" y1="88" x2="231.7" y2="70.6" stroke="#555" stroke-width="1.3"/><line x1="398.9" y1="70.2" x2="510.4" y2="68.9" stroke="#555" stroke-width="1.3"/><line x1="77.1" y1="289.4" x2="253.4" y2="312.5" stroke="#555" stroke-width="1.3"/><line x1="391.1" y1="313.4" x2="567.6" y2="281.3" stroke="#555" stroke-width="1.3"/><rect x="5.4" y="70.2" width="1.6" height="1.6" fill="#111"/><rect x="317.3" y="54.2" width="1.6" height="1.6" fill="#111"/><rect x="4.3" y="287.5" width="1.6" height="1.6" fill="#111"/><rect x="319.0" y="284.5" width="1.6" height="1.6" fill="#111"/>
<g font-family='"Liberation Sans", sans-serif' fill="#000">
<text transform="translate(26.00,32.20) scale(1.1262,1)" font-size="12" font-weight="bold" stroke="#000" stroke-width="0.25">80</text>
<text transform="translate(26.00,68.00) scale(1.1262,1)" font-size="12" font-weight="bold" stroke="#000" stroke-width="0.25">60</text>
<text transform="translate(26.00,103.80) scale(1.1262,1)" font-size="12" font-weight="bold" stroke="#000" stroke-width="0.25">40</text>
<text transform="translate(26.00,139.70) scale(1.1262,1)" font-size="12" font-weight="bold" stroke="#000" stroke-width="0.25">20</text>
<text transform="translate(34.40,175.60) scale(1.0000,1)" font-size="12" font-weight="bold" stroke="#000" stroke-width="0.25">0</text>
<text transform="translate(42.30,190.00) scale(1.0819,1)" font-size="12" font-weight="bold" stroke="#000" stroke-width="0.25">2.0</text>
<text transform="translate(102.10,190.00) scale(1.0819,1)" font-size="12" font-weight="bold" stroke="#000" stroke-width="0.25">3.0</text>
<text transform="translate(161.70,190.00) scale(1.0819,1)" font-size="12" font-weight="bold" stroke="#000" stroke-width="0.25">4.0</text>
<text transform="translate(221.40,190.00) scale(1.0819,1)" font-size="12" font-weight="bold" stroke="#000" stroke-width="0.25">5.0</text>
<text transform="translate(280.60,190.00) scale(1.0819,1)" font-size="12" font-weight="bold" stroke="#000" stroke-width="0.25">6.0</text>
<text transform="translate(105.60,211.70) scale(1.0676,1)" font-size="14" stroke="#000" stroke-width="0.5">Wind speed (km/hr)</text>
<text transform="translate(104.00,141.00) scale(0.9726,1)" font-size="14.5" stroke="#000" stroke-width="0.5">r = 0.322</text>
<text transform="translate(175.50,141.00) scale(0.9707,1)" font-size="14.5" stroke="#000" stroke-width="0.5">p &lt; 0.01</text>
<text transform="translate(106.80,160.40) scale(0.9960,1)" font-size="14.5" stroke="#000" stroke-width="0.5">y = 37.351+3.749x</text>
<text transform="translate(13.70,141.80) rotate(-90) scale(1.0045,1)" font-size="15" stroke="#000" stroke-width="0.55">PM</text>
<text transform="translate(17.00,118.50) rotate(-90) scale(0.8700,1)" font-size="10.5" stroke="#000" stroke-width="0.55">10</text>
<text transform="translate(13.60,106.50) rotate(-90) scale(1.0725,1)" font-size="14" stroke="#000" stroke-width="0.55">(ugm</text>
<text transform="translate(9.30,67.70) rotate(-90) scale(0.7000,1)" font-size="10.5" stroke="#000" stroke-width="0.55">3</text>
<text transform="translate(14.00,62.30) rotate(-90) scale(0.7750,1)" font-size="14" stroke="#000" stroke-width="0.55">)</text>
<text transform="translate(337.20,10.10) scale(1.0677,1)" font-size="12" font-weight="bold" stroke="#000" stroke-width="0.4">80</text>
<text transform="translate(337.20,51.00) scale(1.0677,1)" font-size="12" font-weight="bold" stroke="#000" stroke-width="0.4">60</text>
<text transform="translate(337.20,91.90) scale(1.0677,1)" font-size="12" font-weight="bold" stroke="#000" stroke-width="0.4">40</text>
<text transform="translate(337.20,132.80) scale(1.0677,1)" font-size="12" font-weight="bold" stroke="#000" stroke-width="0.4">20</text>
<text transform="translate(344.40,173.70) scale(1.0571,1)" font-size="12" font-weight="bold" stroke="#000" stroke-width="0.4">0</text>
<text transform="translate(354.00,189.90) scale(1.0824,1)" font-size="12" font-weight="bold" stroke="#000" stroke-width="0.4">80</text>
<text transform="translate(427.45,189.50) scale(1.0075,1)" font-size="12" font-weight="bold" stroke="#000" stroke-width="0.25">180</text>
<text transform="translate(504.05,189.50) scale(1.0075,1)" font-size="12" font-weight="bold" stroke="#000" stroke-width="0.25">280</text>
<text transform="translate(580.25,189.50) scale(1.0075,1)" font-size="12" font-weight="bold" stroke="#000" stroke-width="0.25">380</text>
<text transform="translate(412.22,211.20) scale(1.0775,1)" font-size="14" stroke="#000" stroke-width="0.5">Ultra Violet B (J/m2hr)</text>
<text transform="translate(409.50,133.80) scale(0.9726,1)" font-size="14.5" stroke="#000" stroke-width="0.5">r = 0.029</text>
<text transform="translate(478.00,133.80) scale(0.9158,1)" font-size="14.5" stroke="#000" stroke-width="0.5">p &lt;</text>
<text transform="translate(505.00,133.80) scale(0.9802,1)" font-size="14.5" stroke="#000" stroke-width="0.5">0.01</text>
<text transform="translate(408.20,151.40) scale(1.0108,1)" font-size="14" stroke="#000" stroke-width="0.5">y = 47.094 + 0.009x</text>
<text transform="translate(326.30,128.27) rotate(-90) scale(0.9664,1)" font-size="15" stroke="#000" stroke-width="0.55">PM</text>
<text transform="translate(330.00,105.90) rotate(-90) scale(0.9544,1)" font-size="10.5" stroke="#000" stroke-width="0.55">10</text>
<text transform="translate(325.90,93.20) rotate(-90) scale(1.1526,1)" font-size="14" stroke="#000" stroke-width="0.55">(ugm</text>
<text transform="translate(321.40,51.80) rotate(-90) scale(0.7667,1)" font-size="10.5" stroke="#000" stroke-width="0.55">3</text>
<text transform="translate(326.80,45.60) rotate(-90) scale(0.8250,1)" font-size="14" stroke="#000" stroke-width="0.55">)</text>
<text transform="translate(26.60,251.10) scale(1.1262,1)" font-size="12" font-weight="bold" stroke="#000" stroke-width="0.25">80</text>
<text transform="translate(26.60,288.30) scale(1.1262,1)" font-size="12" font-weight="bold" stroke="#000" stroke-width="0.25">60</text>
<text transform="translate(26.60,325.60) scale(1.1262,1)" font-size="12" font-weight="bold" stroke="#000" stroke-width="0.25">40</text>
<text transform="translate(26.60,362.80) scale(1.1262,1)" font-size="12" font-weight="bold" stroke="#000" stroke-width="0.25">20</text>
<text transform="translate(36.10,400.00) scale(0.8429,1)" font-size="12" font-weight="bold" stroke="#000" stroke-width="0.25">0</text>
<text transform="translate(35.65,416.30) scale(1.0772,1)" font-size="12" font-weight="bold" stroke="#000" stroke-width="0.25">70.00</text>
<text transform="translate(111.25,416.30) scale(1.0772,1)" font-size="12" font-weight="bold" stroke="#000" stroke-width="0.25">75.00</text>
<text transform="translate(186.85,416.30) scale(1.0772,1)" font-size="12" font-weight="bold" stroke="#000" stroke-width="0.25">80.00</text>
<text transform="translate(261.85,416.30) scale(1.0772,1)" font-size="12" font-weight="bold" stroke="#000" stroke-width="0.25">85.00</text>
<text transform="translate(70.35,439.40) scale(1.0486,1)" font-size="14" stroke="#000" stroke-width="0.5">Humidity (Percentage)</text>
<text transform="translate(110.90,362.30) scale(0.9631,1)" font-size="14.5" stroke="#000" stroke-width="0.5">r = -0.407</text>
<text transform="translate(183.80,362.30) scale(0.9257,1)" font-size="14.5" stroke="#000" stroke-width="0.5">p &lt;</text>
<text transform="translate(210.70,362.30) scale(0.9909,1)" font-size="14.5" stroke="#000" stroke-width="0.5">0.01</text>
<text transform="translate(110.90,381.70) scale(0.9889,1)" font-size="14.5" stroke="#000" stroke-width="0.5">y = 134.422- 1.076x</text>
<text transform="translate(14.10,364.67) rotate(-90) scale(1.0712,1)" font-size="15" stroke="#000" stroke-width="0.55">PM</text>
<text transform="translate(18.00,340.00) rotate(-90) scale(0.9544,1)" font-size="10.5" stroke="#000" stroke-width="0.55">10</text>
<text transform="translate(13.80,327.40) rotate(-90) scale(1.1878,1)" font-size="14" stroke="#000" stroke-width="0.55">(ugm</text>
<text transform="translate(8.80,284.90) rotate(-90) scale(0.7833,1)" font-size="10.5" stroke="#000" stroke-width="0.55">3</text>
<text transform="translate(14.30,279.10) rotate(-90) scale(0.7500,1)" font-size="14" stroke="#000" stroke-width="0.55">)</text>
<text transform="translate(336.00,245.80) scale(1.0604,1)" font-size="12" font-weight="bold" stroke="#000" stroke-width="0.25">80</text>
<text transform="translate(336.00,284.60) scale(1.0604,1)" font-size="12" font-weight="bold" stroke="#000" stroke-width="0.25">60</text>
<text transform="translate(336.00,323.40) scale(1.0604,1)" font-size="12" font-weight="bold" stroke="#000" stroke-width="0.25">40</text>
<text transform="translate(336.00,362.20) scale(1.0604,1)" font-size="12" font-weight="bold" stroke="#000" stroke-width="0.25">20</text>
<text transform="translate(343.50,401.00) scale(1.0000,1)" font-size="12" font-weight="bold" stroke="#000" stroke-width="0.25">0</text>
<text transform="translate(346.00,417.20) scale(1.2077,1)" font-size="12" font-weight="bold" stroke="#000" stroke-width="0.25">25.0</text>
<text transform="translate(405.00,417.20) scale(1.2077,1)" font-size="12" font-weight="bold" stroke="#000" stroke-width="0.25">26.0</text>
<text transform="translate(463.40,417.20) scale(1.2077,1)" font-size="12" font-weight="bold" stroke="#000" stroke-width="0.25">27.0</text>
<text transform="translate(522.70,417.20) scale(1.2077,1)" font-size="12" font-weight="bold" stroke="#000" stroke-width="0.25">28.0</text>
<text transform="translate(581.70,417.20) scale(1.2077,1)" font-size="12" font-weight="bold" stroke="#000" stroke-width="0.25">29.0</text>
<text transform="translate(385.70,440.00) scale(1.0615,1)" font-size="14" stroke="#000" stroke-width="0.5">Ambient air temperature (ºC)</text>
<text transform="translate(438.80,357.60) scale(0.9588,1)" font-size="14.5" stroke="#000" stroke-width="0.5">r = 0.650</text>
<text transform="translate(507.50,357.60) scale(0.9422,1)" font-size="14.5" stroke="#000" stroke-width="0.5">p &lt; 0.01</text>
<text transform="translate(431.60,376.50) scale(0.9854,1)" font-size="14.5" stroke="#000" stroke-width="0.5">y = 102.156 + 5.647x</text>
<text transform="translate(327.80,361.07) rotate(-90) scale(1.0712,1)" font-size="15" stroke="#000" stroke-width="0.55">PM</text>
<text transform="translate(332.30,337.00) rotate(-90) scale(0.9037,1)" font-size="10.5" stroke="#000" stroke-width="0.55">10</text>
<text transform="translate(327.70,325.50) rotate(-90) scale(1.2230,1)" font-size="14" stroke="#000" stroke-width="0.55">(ugm</text>
<text transform="translate(323.10,281.90) rotate(-90) scale(0.7333,1)" font-size="10.5" stroke="#000" stroke-width="0.55">3</text>
<text transform="translate(328.20,276.10) rotate(-90) scale(0.7500,1)" font-size="14" stroke="#000" stroke-width="0.55">)</text>
</g>
</svg></body></html>
